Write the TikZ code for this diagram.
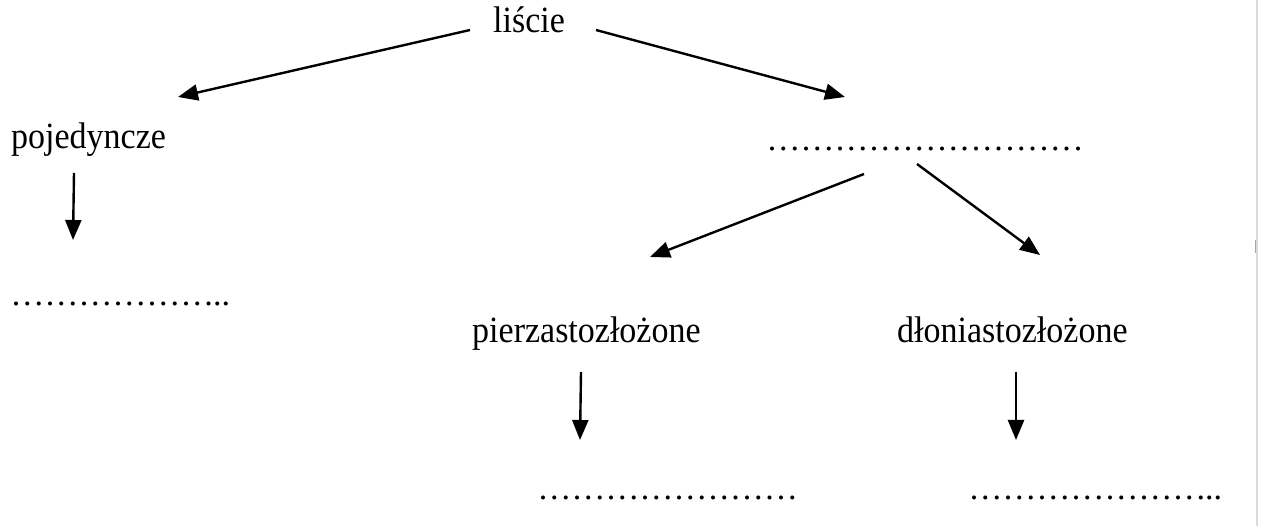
\documentclass[tikz,border=0pt]{standalone}
\usepackage{fontspec}
\setmainfont{Liberation Serif}
\usetikzlibrary{arrows.meta}
% one leader dot on a fixed 1/3 em pitch
\newcommand\leaderdot{\makebox[11.33pt][c]{.}}
\newcommand\dotrow[1]{\foreach \k in {1,...,#1}{\leaderdot}}
% words are set slightly taller than wide
\newcommand\tallword[1]{\scalebox{1}[1.09]{#1}}
\begin{document}
\begin{tikzpicture}[x=1pt,y=-1pt,
  lbl/.style={inner sep=0pt,anchor=base west,font=\fontsize{34}{40}\selectfont},
  arr/.style={line width=2.4pt,-{Triangle[length=20pt,width=16pt]}}]
\useasboundingbox[fill=white] (0,0) rectangle (1264,526);
% thin page edge on the right
\draw[line width=1.5pt,black!14] (1257,0) -- (1257,526);
\draw[line width=1pt,black!35] (1255,240) -- (1255,253);

% labels
\node[lbl] (liscie) at (493,33) {\tallword{liście}};
\node[lbl] (poj) at (11,149) {\tallword{pojedyncze}};
\node[lbl] (dtop) at (766.3,151) {\dotrow{28}};
\node[lbl] (dleft) at (10.3,306) {\dotrow{18}\kern-1.4pt..};
\node[lbl] (pier) at (472,343) {\tallword{pierzastozłożone}};
\node[lbl] (dlon) at (897,343) {\tallword{dłoniastozłożone}};
\node[lbl] (dbm) at (537.3,499) {\dotrow{23}};
\node[lbl] (dbr) at (968.3,499) {\dotrow{21}\kern-1.4pt..};

% connectors
\draw[arr] ([shift={(-23,-3)}]liscie.base west) -- ([shift={(167,-52)}]poj.base west);
\draw[arr] ([shift={(103,-3)}]liscie.base west) -- ([shift={(78.7,-54)}]dtop.base west);
\draw[arr] ([shift={(63,24)}]poj.base west) -- ([shift={(62,91)}]poj.base west);
\draw[arr] ([shift={(97.7,23)}]dtop.base west) -- ([shift={(178,-86)}]pier.base west);
\draw[arr] ([shift={(150.7,13)}]dtop.base west) -- ([shift={(143,-88)}]dlon.base west);
\draw[arr] ([shift={(109,29)}]pier.base west) -- ([shift={(108,97)}]pier.base west);
\draw[arr] ([shift={(119,29)}]dlon.base west) -- ([shift={(119,97)}]dlon.base west);
\end{tikzpicture}
\end{document}
